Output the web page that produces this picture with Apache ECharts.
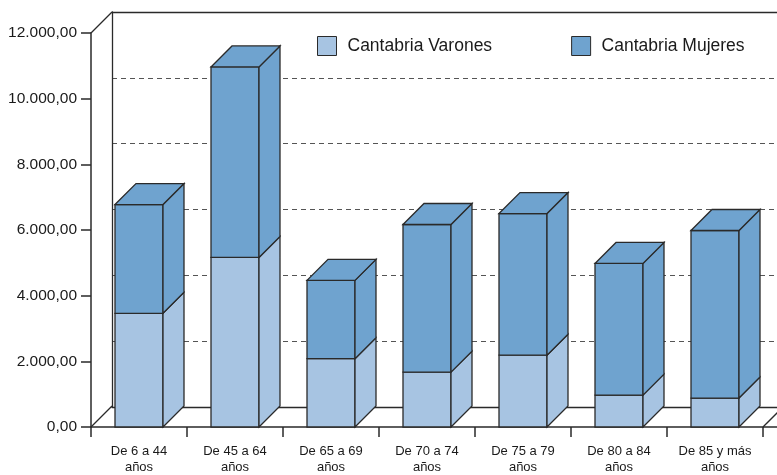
<!DOCTYPE html>
<html>
<head>
<meta charset="utf-8">
<script src="https://cdn.jsdelivr.net/npm/echarts@6/dist/echarts.min.js"></script>
<style>
html,body{margin:0;padding:0;background:#fff;}
#chart{width:777px;height:475px;}
</style>
</head>
<body>
<div id="chart"></div>
<script>
// ---- data ----
const categories = ['De 6 a 44\naños','De 45 a 64\naños','De 65 a 69\naños','De 70 a 74\naños','De 75 a 79\naños','De 80 a 84\naños','De 85 y más\naños'];
const varones = [3463, 5165, 2080, 1671, 2187, 972, 881];
const mujeres = [3312, 5802, 2386, 4496, 4314, 4010, 5104];
const seriesNames = ['Cantabria Varones', 'Cantabria Mujeres'];
const yTicks = {min: 0, max: 12000, interval: 2000};

// ---- styles ----
const FONT = 'Liberation Sans, Arial, sans-serif';
const colV = '#a7c4e2';
const colM = '#6fa3cf';
const edge = '#2a2a2a';
const D = 21; // depth offset (px)

function fmt(v){
  const s = Math.round(v).toString().replace(/\B(?=(\d{3})+(?!\d))/g, '.');
  return s + ',00';
}

function makeRender(color, isTop){
  return function(params, api){
    const i = api.value(0), lo = api.value(1), hi = api.value(2);
    const p0 = api.coord([i, lo]);
    const p1 = api.coord([i, hi]);
    const catW = api.size([1, 0])[0];
    const w = catW * 0.5;
    const x0 = p0[0] - w / 2, x1 = p0[0] + w / 2, yb = p0[1], yt = p1[1];
    const ls = {fill: color, stroke: edge, lineWidth: 1.3};
    const children = [];
    if (!isTop) {
      const base = api.coord([i, 0]);
      const topC = api.coord([i, yTicks.max]);
      if (params.dataIndex === 0) {
        const lx = base[0] - catW / 2;
        children.push({type: 'line', shape: {x1: lx, y1: base[1], x2: lx + D, y2: base[1] - D}, style: {stroke: edge, lineWidth: 1.3}});
        children.push({type: 'line', shape: {x1: lx, y1: topC[1], x2: lx + D, y2: topC[1] - D}, style: {stroke: edge, lineWidth: 1.3}});
      }
      if (params.dataIndex === categories.length - 1) {
        const rx = base[0] + catW / 2;
        children.push({type: 'line', shape: {x1: rx, y1: base[1], x2: rx + D, y2: base[1] - D}, style: {stroke: edge, lineWidth: 1.3}});
        children.push({type: 'line', shape: {x1: rx, y1: base[1], x2: rx + D, y2: base[1]}, style: {stroke: edge, lineWidth: 1.5}});
      }
    }
    children.push({type: 'rect', shape: {x: x0, y: yt, width: x1 - x0, height: yb - yt}, style: ls});
    children.push({type: 'polygon', shape: {points: [[x1, yb], [x1 + D, yb - D], [x1 + D, yt - D], [x1, yt]]}, style: ls});
    if (isTop) {
      children.push({type: 'polygon', shape: {points: [[x0, yt], [x0 + D, yt - D], [x1 + D, yt - D], [x1, yt]]}, style: ls});
    }
    return {type: 'group', children: children};
  };
}

const chart = echarts.init(document.getElementById('chart'), null, {renderer: 'canvas'});
chart.setOption({
  backgroundColor: '#fff',
  animation: false,
  legend: {
    data: [
      {name: seriesNames[0], itemStyle: {color: colV, borderColor: edge, borderWidth: 1}},
      {name: seriesNames[1], itemStyle: {color: colM, borderColor: edge, borderWidth: 1}}
    ],
    left: 312, top: 31,
    icon: 'rect',
    itemWidth: 19, itemHeight: 19,
    itemGap: 79,
    textStyle: {fontFamily: FONT, fontSize: 17.5, color: '#1a1a1a', padding: [0, 0, 0, 6]}
  },
  grid: [
    {left: 91, right: 14, top: 33, bottom: 47},
    {left: 112, right: 0, top: 12, bottom: 68}
  ],
  xAxis: [
    {
      type: 'category', gridIndex: 0, data: categories,
      axisLine: {lineStyle: {color: edge, width: 1.5}},
      axisTick: {show: true, length: 10, lineStyle: {color: edge, width: 1.5}},
      axisLabel: {fontFamily: FONT, fontSize: 13, color: '#1a1a1a', lineHeight: 16, margin: 16, interval: 0}
    },
    {
      type: 'category', gridIndex: 1, data: categories, position: 'bottom',
      axisLine: {lineStyle: {color: edge, width: 1.3}},
      axisTick: {show: false}, axisLabel: {show: false}
    },
    {
      type: 'category', gridIndex: 1, data: categories, position: 'top',
      axisLine: {lineStyle: {color: edge, width: 1.3}},
      axisTick: {show: false}, axisLabel: {show: false}
    }
  ],
  yAxis: [
    {
      type: 'value', gridIndex: 0, min: yTicks.min, max: yTicks.max, interval: yTicks.interval,
      axisLine: {show: true, lineStyle: {color: edge, width: 1.5}},
      axisTick: {show: true, length: 10, lineStyle: {color: edge, width: 1.5}},
      axisLabel: {fontFamily: FONT, fontSize: 15.5, color: '#1a1a1a', margin: 14, formatter: fmt},
      splitLine: {show: false}
    },
    {
      type: 'value', gridIndex: 1, min: yTicks.min, max: yTicks.max, interval: yTicks.interval,
      axisLine: {show: true, lineStyle: {color: edge, width: 1.3}},
      axisTick: {show: false}, axisLabel: {show: false},
      splitLine: {show: true, lineStyle: {color: '#555', width: 1, type: [5, 4]}}
    }
  ],
  series: [
    {
      name: seriesNames[0], type: 'custom', xAxisIndex: 0, yAxisIndex: 0,
      itemStyle: {color: colV},
      renderItem: makeRender(colV, false),
      encode: {x: 0, y: [1, 2]},
      data: varones.map((v, i) => [i, 0, v]),
      z: 3
    },
    {
      name: seriesNames[1], type: 'custom', xAxisIndex: 0, yAxisIndex: 0,
      itemStyle: {color: colM},
      renderItem: makeRender(colM, true),
      encode: {x: 0, y: [1, 2]},
      data: mujeres.map((m, i) => [i, varones[i], varones[i] + m]),
      z: 4
    }
  ]
});
</script>
</body>
</html>
